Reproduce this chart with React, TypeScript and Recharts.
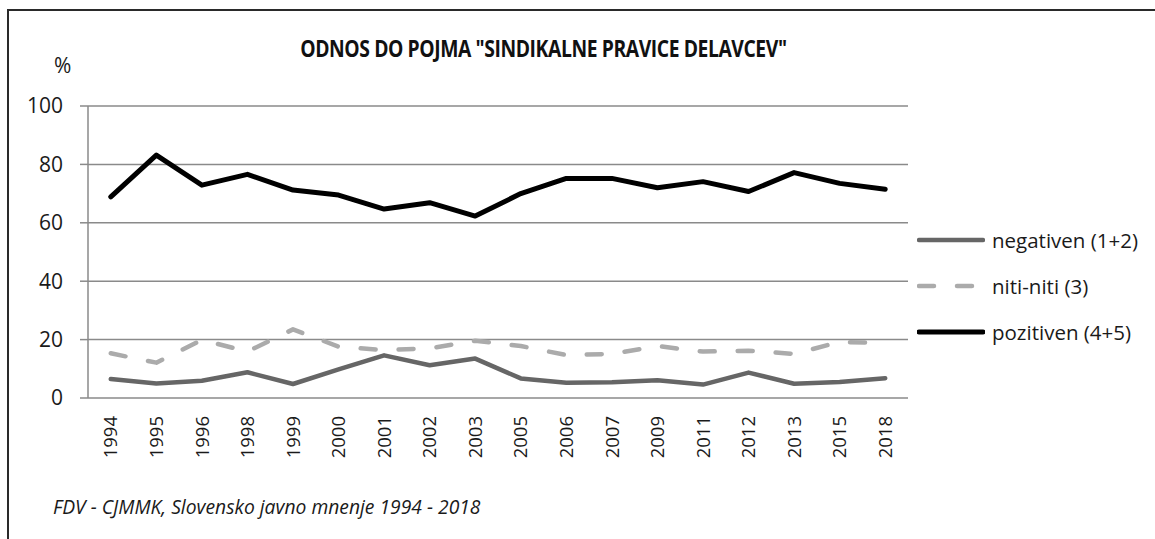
import { LineChart, Line, XAxis, YAxis, CartesianGrid } from "recharts"

// survey years (categories) and shares in %
const YEARS = ["1994", "1995", "1996", "1998", "1999", "2000", "2001", "2002", "2003", "2005", "2006", "2007", "2009", "2011", "2012", "2013", "2015", "2018"]
const NEGATIVEN = [6.5, 5.0, 5.9, 8.8, 4.8, 9.8, 14.6, 11.2, 13.5, 6.7, 5.2, 5.4, 6.1, 4.6, 8.7, 4.9, 5.5, 6.8]
const NITI = [15.3, 12.1, 19.9, 15.9, 23.5, 17.6, 16.4, 17.0, 19.6, 17.8, 14.7, 15.1, 17.8, 15.9, 16.2, 15.1, 19.2, 18.9]
const POZITIVEN = [68.9, 83.2, 72.9, 76.6, 71.2, 69.5, 64.7, 66.9, 62.3, 70.0, 75.2, 75.2, 72.0, 74.1, 70.7, 77.2, 73.5, 71.5]
const Y_TICKS = [0, 20, 40, 60, 80, 100]

const SERIES = [
  { key: "neg", name: "negativen (1+2)", color: "#666666", width: 4.5, dash: undefined as string | undefined },
  { key: "niti", name: "niti-niti (3)", color: "#ababab", width: 4.5, dash: "15 23" },
  { key: "poz", name: "pozitiven (4+5)", color: "#000000", width: 5, dash: undefined as string | undefined },
]

const data = YEARS.map((y, i) => ({
  year: y,
  idx: i,
  neg: NEGATIVEN[i],
  niti: NITI[i],
  poz: POZITIVEN[i],
}))

// category boundaries for Excel-style tick marks between labels
const EDGES = YEARS.map((_, i) => i).concat(YEARS.length)

const FONT = "'Open Sans', 'Noto Sans', sans-serif"

const YearTick = ({ x, y, payload }: any) => (
  <text x={x} y={y} transform={`rotate(-90 ${x} ${y})`} textAnchor="end" dy="0.36em"
    fill="#1a1a1a" fontSize={18.5} fontFamily={FONT}>
    {payload.value}
  </text>
)

export default function App() {
  return (
    <div style={{ position: "absolute", left: 0, top: 0, width: 1155, height: 539, background: "#fff", overflow: "hidden" }}>
      {/* frame */}
      <div style={{ position: "absolute", left: 7, top: 9, width: 1148, height: 2, background: "#2a2a2a" }} />
      <div style={{ position: "absolute", left: 7, top: 9, width: 2, height: 530, background: "#2a2a2a" }} />

      <div style={{
        position: "absolute", left: 0, width: 1087, top: 32, textAlign: "center",
        fontFamily: FONT, fontWeight: 700, fontSize: 23, letterSpacing: -0.5, color: "#111",
        transform: "scaleX(0.84)", transformOrigin: "543px 0"
      }}>
        ODNOS DO POJMA "SINDIKALNE PRAVICE DELAVCEV"
      </div>
      <div style={{ position: "absolute", left: 54, top: 51, fontFamily: FONT, fontSize: 21, color: "#1a1a1a" }}>%</div>

      <LineChart width={1155} height={539} data={data}
        margin={{ top: 106, right: 247, bottom: 0, left: 0 }}
        style={{ position: "absolute", left: 0, top: 0 }}>
        <CartesianGrid vertical={false} stroke="#8a8a8a" strokeWidth={1.5} xAxisId="cat" />
        <XAxis xAxisId="edge" type="number" domain={[0, YEARS.length]} ticks={EDGES} dataKey="idx"
          tick={false} tickSize={7} height={0} stroke="#8a8a8a" strokeWidth={1.5} allowDataOverflow />
        <XAxis xAxisId="cat" dataKey="year" type="category" scale="band" interval={0}
          axisLine={false} tickLine={false} tickMargin={12} height={141} tick={<YearTick />} />
        <YAxis domain={[0, 100]} ticks={Y_TICKS} width={88} tickSize={8} tickMargin={17}
          stroke="#8a8a8a" strokeWidth={1.5}
          tick={{ fill: "#1a1a1a", fontSize: 21, fontFamily: FONT }} />
        {SERIES.map(s => (
          <Line key={s.key} xAxisId="cat" dataKey={s.key} name={s.name} stroke={s.color}
            strokeWidth={s.width} strokeDasharray={s.dash} strokeLinecap="round" strokeLinejoin="round"
            dot={false} activeDot={false} isAnimationActive={false} />
        ))}
      </LineChart>

      {/* legend */}
      <div style={{ position: "absolute", left: 917, top: 217, fontFamily: FONT, fontSize: 20.5, color: "#1a1a1a" }}>
        {SERIES.map(s => (
          <div key={s.key} style={{ display: "flex", alignItems: "center", height: 46 }}>
            <svg width={68} height={10} style={{ marginRight: 7 }}>
              <line x1={2} y1={5} x2={66} y2={5} stroke={s.color} strokeWidth={s.width}
                strokeDasharray={s.dash} strokeLinecap="round" />
            </svg>
            {s.name}
          </div>
        ))}
      </div>

      <div style={{
        position: "absolute", left: 53, top: 493, fontFamily: FONT, fontStyle: "italic",
        fontSize: 19.3, color: "#1a1a1a"
      }}>
        FDV - CJMMK, Slovensko javno mnenje 1994 - 2018
      </div>
    </div>
  )
}
